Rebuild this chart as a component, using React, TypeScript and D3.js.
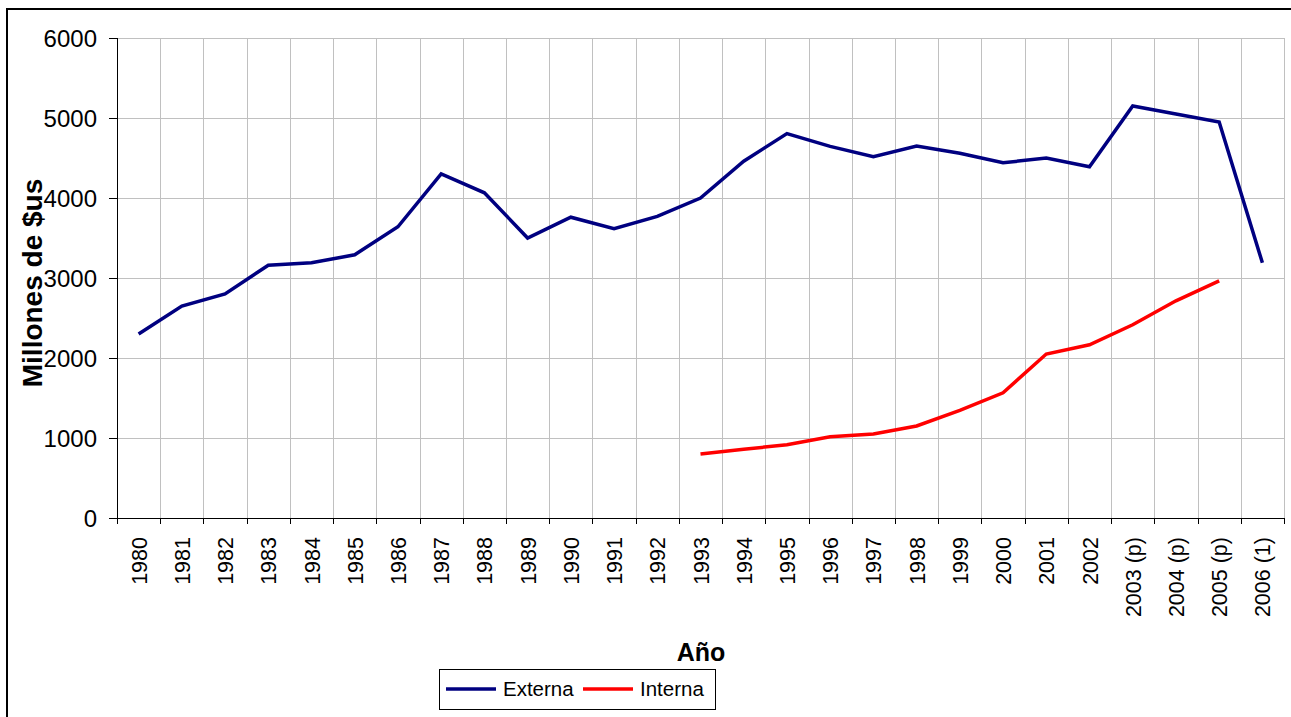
import React from "react";
import * as d3 from "d3";

const categories = [
  "1980", "1981", "1982", "1983", "1984", "1985", "1986", "1987", "1988", "1989",
  "1990", "1991", "1992", "1993", "1994", "1995", "1996", "1997", "1998", "1999",
  "2000", "2001", "2002", "2003 (p)", "2004 (p)", "2005 (p)", "2006 (1)",
];

const externa = [
  2300, 2650, 2800, 3160, 3190, 3290, 3640, 4300, 4065, 3500,
  3760, 3615, 3770, 4000, 4460, 4805, 4645, 4515, 4650, 4560,
  4440, 4500, 4390, 5150, 5050, 4950, 3190,
];

const interna: (number | null)[] = [
  null, null, null, null, null, null, null, null, null, null,
  null, null, null, 800, 860, 915, 1015, 1050, 1150, 1345,
  1565, 2050, 2165, 2415, 2715, 2965, null,
];

const yTicks = [0, 1000, 2000, 3000, 4000, 5000, 6000];

const seriesNames = ["Externa", "Interna"];
const seriesColors = ["#000080", "#FF0000"];

const FONT = "'Liberation Sans', Arial, Helvetica, sans-serif";

export default function App() {
  const left = 117;
  const right = 1284;
  const top = 38;
  const bottom = 518;

  const x = d3.scaleBand<string>().domain(categories).range([left, right]).padding(0);
  const y = d3.scaleLinear().domain([0, 6000]).range([bottom, top]);
  const cx = (c: string) => (x(c) as number) + x.bandwidth() / 2;

  const lineGen = d3
    .line<number | null>()
    .defined((d) => d !== null)
    .x((_, i) => cx(categories[i]))
    .y((d) => y(d as number));

  const boundaries = categories.map((c) => x(c) as number).concat([right]);

  return (
    <svg
      width={1291}
      height={717}
      style={{ position: "absolute", left: 0, top: 0, background: "#fff" }}
      fontFamily={FONT}
    >
      <rect x={0} y={0} width={1291} height={717} fill="#fff" />
      {/* outer frame */}
      <rect x={7} y={9} width={1300} height={730} fill="none" stroke="#000" strokeWidth={2} />

      {/* horizontal gridlines */}
      {yTicks.map((t) => (
        <line
          key={"hg" + t}
          x1={left}
          x2={right}
          y1={Math.round(y(t)) + 0.5}
          y2={Math.round(y(t)) + 0.5}
          stroke="#c0c0c0"
          strokeWidth={1}
        />
      ))}
      {/* vertical gridlines */}
      {boundaries.slice(1).map((b, i) => (
        <line
          key={"vg" + i}
          x1={Math.round(b) + 0.5}
          x2={Math.round(b) + 0.5}
          y1={top}
          y2={bottom}
          stroke="#c0c0c0"
          strokeWidth={1}
        />
      ))}

      {/* y axis */}
      <line x1={left + 0.5} x2={left + 0.5} y1={top} y2={bottom + 0.5} stroke="#000" strokeWidth={1} />
      {yTicks.map((t) => (
        <g key={"yt" + t}>
          <line
            x1={left - 8}
            x2={left}
            y1={Math.round(y(t)) + 0.5}
            y2={Math.round(y(t)) + 0.5}
            stroke="#000"
            strokeWidth={1}
          />
          <text
            x={97}
            y={y(t) + 8.5}
            textAnchor="end"
            fontSize={24}
            fill="#000"
          >
            {t}
          </text>
        </g>
      ))}

      {/* x axis */}
      <line x1={left} x2={right + 1} y1={bottom + 0.5} y2={bottom + 0.5} stroke="#000" strokeWidth={1} />
      {boundaries.map((b, i) => (
        <line
          key={"xt" + i}
          x1={Math.round(b) + 0.5}
          x2={Math.round(b) + 0.5}
          y1={bottom}
          y2={bottom + 6}
          stroke="#000"
          strokeWidth={1}
        />
      ))}
      {categories.map((c) => (
        <text
          key={"xl" + c}
          transform={`translate(${cx(c) + 8},${537}) rotate(-90)`}
          textAnchor="end"
          fontSize={21.5}
          fill="#000"
        >
          {c}
        </text>
      ))}

      {/* series */}
      <path
        d={lineGen(externa) || ""}
        fill="none"
        stroke={seriesColors[0]}
        strokeWidth={3.5}
        strokeLinejoin="miter"
      />
      <path
        d={lineGen(interna) || ""}
        fill="none"
        stroke={seriesColors[1]}
        strokeWidth={3.5}
        strokeLinejoin="miter"
      />

      {/* axis titles */}
      <text
        transform={`translate(42,283) rotate(-90)`}
        textAnchor="middle"
        fontSize={28}
        fontWeight="bold"
        fill="#000"
      >
        Millones de $us
      </text>
      <text x={701} y={661} textAnchor="middle" fontSize={25} fontWeight="bold" fill="#000">
        Año
      </text>

      {/* legend */}
      <rect x={439.5} y={669.5} width={276} height={40} fill="#fff" stroke="#000" strokeWidth={1} />
      <line x1={446} x2={496} y1={689} y2={689} stroke={seriesColors[0]} strokeWidth={3.5} />
      <text x={503} y={696} fontSize={20.5} fill="#000">
        {seriesNames[0]}
      </text>
      <line x1={583} x2={633} y1={689} y2={689} stroke={seriesColors[1]} strokeWidth={3.5} />
      <text x={640} y={696} fontSize={20.5} fill="#000">
        {seriesNames[1]}
      </text>
    </svg>
  );
}
